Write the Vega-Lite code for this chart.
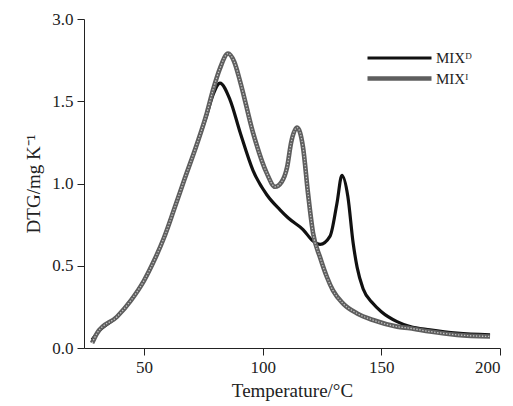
{
  "$schema": "https://vega.github.io/schema/vega-lite/v6.json",
  "autosize": "none",
  "width": 416,
  "height": 329,
  "padding": {"left": 84, "top": 19, "right": 13, "bottom": 58},
  "background": "white",
  "config": {
    "view": {"stroke": null},
    "axis": {
      "grid": false,
      "domainColor": "#222",
      "tickColor": "#222",
      "labelColor": "#222",
      "titleColor": "#222",
      "labelFont": "Liberation Serif",
      "titleFont": "Liberation Serif",
      "labelFontSize": 17,
      "titleFontSize": 19,
      "titleFontWeight": "normal",
      "tickSize": 7,
      "labelPadding": 4
    },
    "legend": {"labelFont": "Liberation Serif", "padding": 0}
  },
  "data": {
    "values": [
      {"series": "MIXᴰ", "T": 28.1, "v": 0.05},
      {"series": "MIXᴰ", "T": 30.2, "v": 0.09},
      {"series": "MIXᴰ", "T": 38.6, "v": 0.19},
      {"series": "MIXᴰ", "T": 44.5, "v": 0.29},
      {"series": "MIXᴰ", "T": 50.0, "v": 0.41},
      {"series": "MIXᴰ", "T": 54.2, "v": 0.53},
      {"series": "MIXᴰ", "T": 58.4, "v": 0.67},
      {"series": "MIXᴰ", "T": 62.6, "v": 0.84},
      {"series": "MIXᴰ", "T": 66.9, "v": 1.02},
      {"series": "MIXᴰ", "T": 72.3, "v": 1.24},
      {"series": "MIXᴰ", "T": 76.5, "v": 1.42},
      {"series": "MIXᴰ", "T": 79.1, "v": 1.54},
      {"series": "MIXᴰ", "T": 82.0, "v": 1.61},
      {"series": "MIXᴰ", "T": 86.2, "v": 1.51},
      {"series": "MIXᴰ", "T": 90.5, "v": 1.31},
      {"series": "MIXᴰ", "T": 95.9, "v": 1.08},
      {"series": "MIXᴰ", "T": 101.8, "v": 0.93},
      {"series": "MIXᴰ", "T": 107.3, "v": 0.84},
      {"series": "MIXᴰ", "T": 110.8, "v": 0.79},
      {"series": "MIXᴰ", "T": 117.0, "v": 0.72},
      {"series": "MIXᴰ", "T": 121.2, "v": 0.65},
      {"series": "MIXᴰ", "T": 124.2, "v": 0.63},
      {"series": "MIXᴰ", "T": 128.4, "v": 0.68},
      {"series": "MIXᴰ", "T": 131.3, "v": 0.88},
      {"series": "MIXᴰ", "T": 133.4, "v": 1.05},
      {"series": "MIXᴰ", "T": 135.9, "v": 0.92},
      {"series": "MIXᴰ", "T": 138.1, "v": 0.64},
      {"series": "MIXᴰ", "T": 139.8, "v": 0.49},
      {"series": "MIXᴰ", "T": 142.3, "v": 0.36},
      {"series": "MIXᴰ", "T": 146.5, "v": 0.27},
      {"series": "MIXᴰ", "T": 150.0, "v": 0.22},
      {"series": "MIXᴰ", "T": 156.6, "v": 0.16},
      {"series": "MIXᴰ", "T": 162.1, "v": 0.13},
      {"series": "MIXᴰ", "T": 170.5, "v": 0.11},
      {"series": "MIXᴰ", "T": 181.9, "v": 0.09},
      {"series": "MIXᴰ", "T": 195.8, "v": 0.08},
      {"series": "MIXᴵ", "T": 28.1, "v": 0.03},
      {"series": "MIXᴵ", "T": 30.2, "v": 0.09},
      {"series": "MIXᴵ", "T": 38.6, "v": 0.19},
      {"series": "MIXᴵ", "T": 44.5, "v": 0.29},
      {"series": "MIXᴵ", "T": 50.0, "v": 0.41},
      {"series": "MIXᴵ", "T": 54.2, "v": 0.53},
      {"series": "MIXᴵ", "T": 58.4, "v": 0.67},
      {"series": "MIXᴵ", "T": 62.6, "v": 0.84},
      {"series": "MIXᴵ", "T": 66.9, "v": 1.02},
      {"series": "MIXᴵ", "T": 72.3, "v": 1.24},
      {"series": "MIXᴵ", "T": 76.5, "v": 1.43},
      {"series": "MIXᴵ", "T": 79.1, "v": 1.57},
      {"series": "MIXᴵ", "T": 82.0, "v": 1.70},
      {"series": "MIXᴵ", "T": 85.4, "v": 1.79},
      {"series": "MIXᴵ", "T": 88.0, "v": 1.74},
      {"series": "MIXᴵ", "T": 90.5, "v": 1.62},
      {"series": "MIXᴵ", "T": 95.9, "v": 1.31},
      {"series": "MIXᴵ", "T": 101.8, "v": 1.06},
      {"series": "MIXᴵ", "T": 105.2, "v": 0.98},
      {"series": "MIXᴵ", "T": 108.0, "v": 1.01},
      {"series": "MIXᴵ", "T": 110.3, "v": 1.10},
      {"series": "MIXᴵ", "T": 112.0, "v": 1.25},
      {"series": "MIXᴵ", "T": 114.5, "v": 1.34},
      {"series": "MIXᴵ", "T": 117.0, "v": 1.22},
      {"series": "MIXᴵ", "T": 119.1, "v": 0.94},
      {"series": "MIXᴵ", "T": 121.2, "v": 0.70},
      {"series": "MIXᴵ", "T": 124.2, "v": 0.55},
      {"series": "MIXᴵ", "T": 127.1, "v": 0.43},
      {"series": "MIXᴵ", "T": 129.6, "v": 0.35},
      {"series": "MIXᴵ", "T": 133.9, "v": 0.27},
      {"series": "MIXᴵ", "T": 139.8, "v": 0.21},
      {"series": "MIXᴵ", "T": 146.5, "v": 0.17},
      {"series": "MIXᴵ", "T": 156.6, "v": 0.13},
      {"series": "MIXᴵ", "T": 162.1, "v": 0.12},
      {"series": "MIXᴵ", "T": 170.5, "v": 0.10},
      {"series": "MIXᴵ", "T": 181.9, "v": 0.08},
      {"series": "MIXᴵ", "T": 195.8, "v": 0.07}
    ]
  },
  "layer": [
    {
      "mark": {"type": "line", "interpolate": "monotone"},
      "encoding": {
        "x": {
          "field": "T", "type": "quantitative",
          "scale": {"domain": [24.7, 200], "nice": false, "zero": false},
          "axis": {"values": [50, 100, 150, 200], "title": "Temperature/°C", "titlePadding": 6}
        },
        "y": {
          "field": "v", "type": "quantitative",
          "scale": {"domain": [0, 2], "nice": false},
          "axis": {
            "values": [0, 0.5, 1, 1.5, 2],
            "labelExpr": "datum.value == 2 ? '3.0' : format(datum.value, '.1f')",
            "title": "DTG/mg K⁻¹",
            "titlePadding": 8
          }
        },
        "color": {
          "field": "series", "type": "nominal",
          "scale": {"domain": ["MIXᴰ", "MIXᴵ"], "range": ["#111111", "#5e5e5e"]},
          "legend": {
            "title": null,
            "orient": "none",
            "legendX": 305,
            "legendY": 29,
            "symbolType": "M-4,0H4",
            "symbolSize": 256,
            "labelFontSize": 15,
            "labelColor": "#222",
            "labelOffset": 26,
            "rowPadding": 2
          }
        },
        "strokeWidth": {
          "field": "series", "type": "ordinal",
          "scale": {"domain": ["MIXᴰ", "MIXᴵ"], "range": [3.2, 4.6]},
          "legend": {
            "title": null,
            "orient": "none",
            "legendX": 305,
            "legendY": 29,
            "symbolType": "M-4,0H4",
            "symbolSize": 256,
            "labelFontSize": 15,
            "labelColor": "#222",
            "labelOffset": 26,
            "rowPadding": 2
          }
        }
      }
    },
    {
      "transform": [{"filter": "datum.series == 'MIXᴵ'"}],
      "mark": {"type": "line", "interpolate": "monotone", "stroke": "#c4c4c4", "strokeWidth": 1.3, "strokeDash": [1.4, 1.6]},
      "encoding": {
        "x": {"field": "T", "type": "quantitative"},
        "y": {"field": "v", "type": "quantitative"}
      }
    }
  ]
}
